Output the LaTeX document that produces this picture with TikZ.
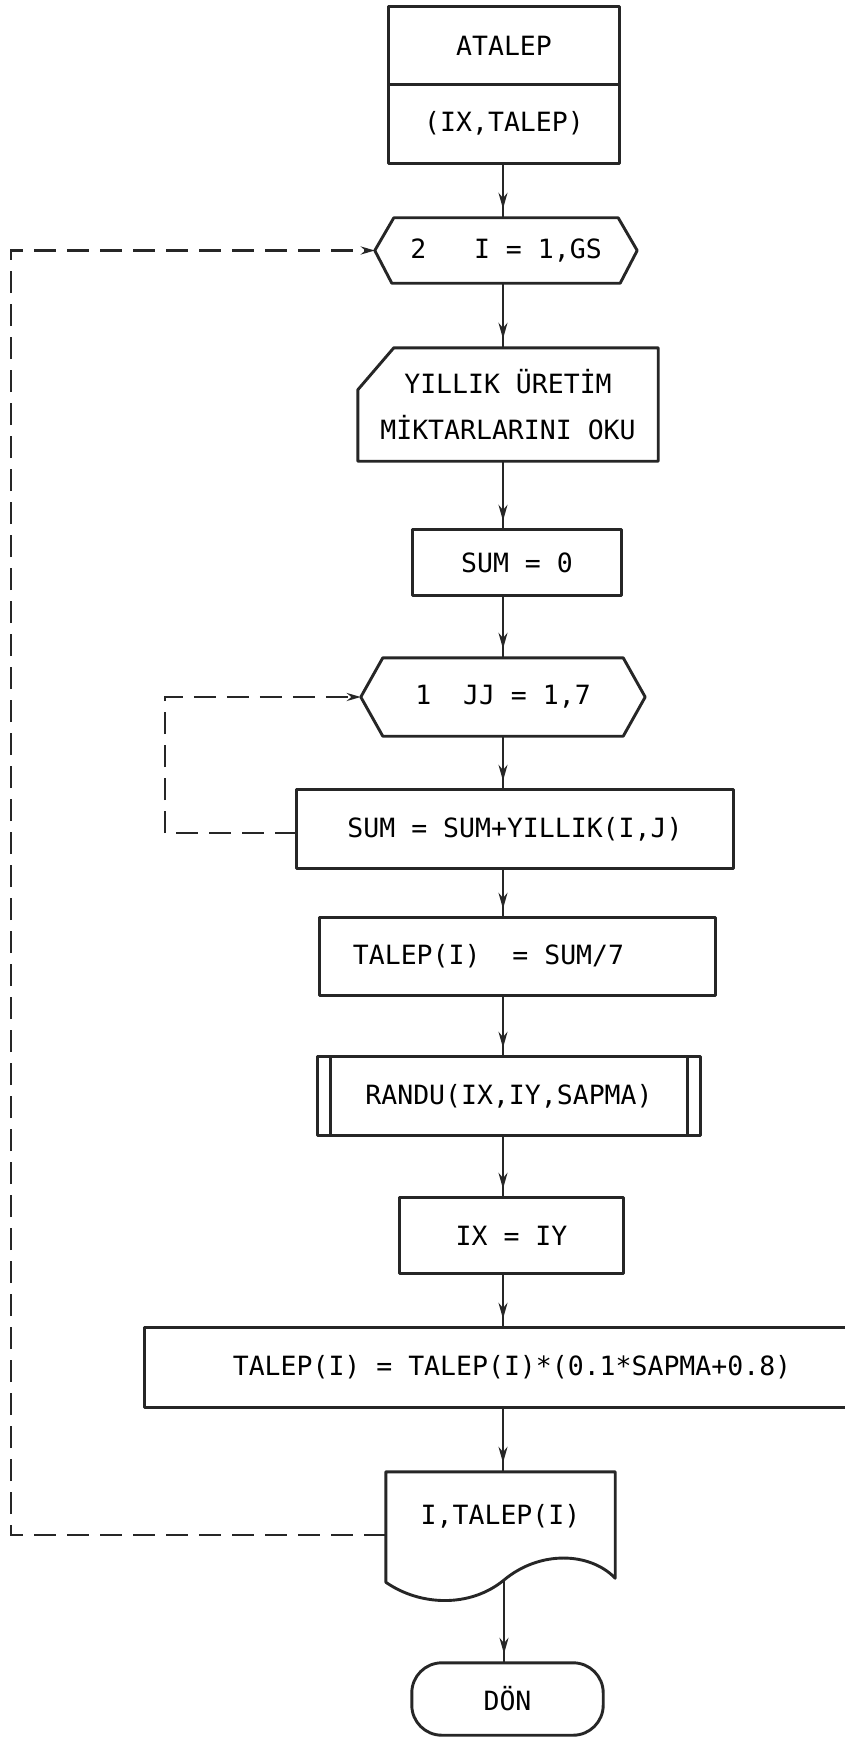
\documentclass[tikz,border=0pt]{standalone}
\usepackage{fontspec}
\newfontfamily\chartfont{DejaVu Sans Mono}
\usetikzlibrary{arrows.meta,calc,decorations.markings}

\begin{document}
\begin{tikzpicture}[x=1pt,y=-1pt,
  font=\chartfont\fontsize{26.5}{31}\selectfont,
  ink/.style={draw=black!85, line width=2.9pt, line join=round},
  bare/.style={rectangle, inner sep=0pt, draw=none},
  flow/.style={draw=black!85, line width=2.1pt, postaction={decorate},
    decoration={markings, mark=at position -9pt with {\arrow{Stealth[length=16pt,width=9pt]}}}},
  loopline/.style={draw=black!85, line width=2.4pt, dash pattern=on 22pt off 11pt,
    -{Stealth[length=14pt,width=8pt]}}
]
\clip (0,0) rectangle (845,1744);
\fill[white] (0,0) rectangle (845,1744);

% column used by the main flow
\coordinate (spine) at (503,0);

% subroutine header
\node[bare, minimum width=230, minimum height=77] (atalep) at (504,45.5) {ATALEP};
\node[bare, minimum width=230, minimum height=79] (args) at (504,123.5) {(IX,TALEP)};
\draw[ink] (atalep.north west) rectangle (args.south east);
\draw[ink] (atalep.south west) -- (atalep.south east);

% outer DO loop
\node[bare, minimum width=262, minimum height=65] (loopa) at (506,250.5) {2\ \ \ I = 1,GS};
\draw[ink] (loopa.west) -- ($(loopa.north west)+(19,0)$) -- ($(loopa.north east)+(-19,0)$)
  -- (loopa.east) -- ($(loopa.south east)+(-17,0)$) -- ($(loopa.south west)+(17,0)$) -- cycle;

% read the yearly production
\node[bare, minimum width=300, minimum height=113, align=center,
  font=\chartfont\fontsize{26.5}{46}\selectfont] (readin) at (508,404.5)
  {YILLIK ÜRETİM\\MİKTARLARINI OKU};
\draw[ink] ($(readin.north west)+(36,0)$) -- (readin.north east) -- (readin.south east)
  -- (readin.south west) -- ($(readin.north west)+(0,42)$) -- cycle;

\node[bare, minimum width=208, minimum height=65] (zero) at (517,562.5) {SUM = 0};
\draw[ink] (zero.north west) rectangle (zero.south east);

% inner DO loop
\node[bare, minimum width=284, minimum height=78] (loopb) at (503,697) {1\ \ JJ = 1,7};
\draw[ink] (loopb.west) -- ($(loopb.north west)+(22,0)$) -- ($(loopb.north east)+(-22,0)$)
  -- (loopb.east) -- ($(loopb.south east)+(-22,0)$) -- ($(loopb.south west)+(22,0)$) -- cycle;

\node[bare, minimum width=436, minimum height=78] (sumy) at (515,829) {SUM = SUM+YILLIK(I,J)};
\draw[ink] (sumy.north west) rectangle (sumy.south east);
\node[bare, minimum width=395, minimum height=77] (mean) at (517.5,956.5) {\hspace*{-58pt}TALEP(I)\ \ = SUM/7};
\draw[ink] (mean.north west) rectangle (mean.south east);

% predefined process
\node[bare, minimum width=382, minimum height=78] (randu) at (509,1096) {RANDU(IX,IY,SAPMA)};
\draw[ink] (randu.north west) rectangle (randu.south east);
\draw[ink] ($(randu.north west)+(13,0)$) -- ($(randu.south west)+(13,0)$);
\draw[ink] ($(randu.north east)+(-13,0)$) -- ($(randu.south east)+(-13,0)$);

\node[bare, minimum width=223, minimum height=75] (seed) at (511.5,1235.5) {IX = IY};
\draw[ink] (seed.north west) rectangle (seed.south east);
\node[bare, minimum width=755, minimum height=79] (scale) at (522.5,1367.5)
  {\hspace*{-21pt}TALEP(I) = TALEP(I)*(0.1*SAPMA+0.8)};
\draw[ink] (scale.north west) rectangle (scale.south east);

% printed output (document symbol)
\node[bare, minimum width=229, minimum height=88] (report) at (500.5,1516) {I,TALEP(I)};
\draw[ink] ($(report.south west)+(0,22)$) -- (report.north west) -- (report.north east)
  -- ($(report.south east)+(0,18)$)
  .. controls (590,1552) and (540,1550) .. (504,1580)
  .. controls (470,1608) and (420,1606) .. cycle;
\coordinate (docout) at (504,1580);

% terminal
\node[bare, minimum width=191, minimum height=72] (finish) at (507.5,1699) {DÖN};
\draw[ink, rounded corners=30pt] (finish.north west) rectangle (finish.south east);

% main flow
\draw[flow] (args.south -| spine) -- (loopa.north -| spine);
\draw[flow] (loopa.south -| spine) -- (readin.north -| spine);
\draw[flow] (readin.south -| spine) -- (zero.north -| spine);
\draw[flow] (zero.south -| spine) -- (loopb.north -| spine);
\draw[flow] (loopb.south -| spine) -- (sumy.north -| spine);
\draw[flow] (sumy.south -| spine) -- (mean.north -| spine);
\draw[flow] (mean.south -| spine) -- (randu.north -| spine);
\draw[flow] (randu.south -| spine) -- (seed.north -| spine);
\draw[flow] (seed.south -| spine) -- (scale.north -| spine);
\draw[flow] (scale.south -| spine) -- (report.north -| spine);
\draw[flow] (docout) -- (finish.north -| docout);

% loop returns
\draw[loopline] ($(sumy.west)+(0,4)$) -- ++(-132,0) |- (loopb.west);
\draw[loopline] ($(report.west)+(0,19)$) -- ++(-375,0) |- (loopa.west);
\end{tikzpicture}
\end{document}
